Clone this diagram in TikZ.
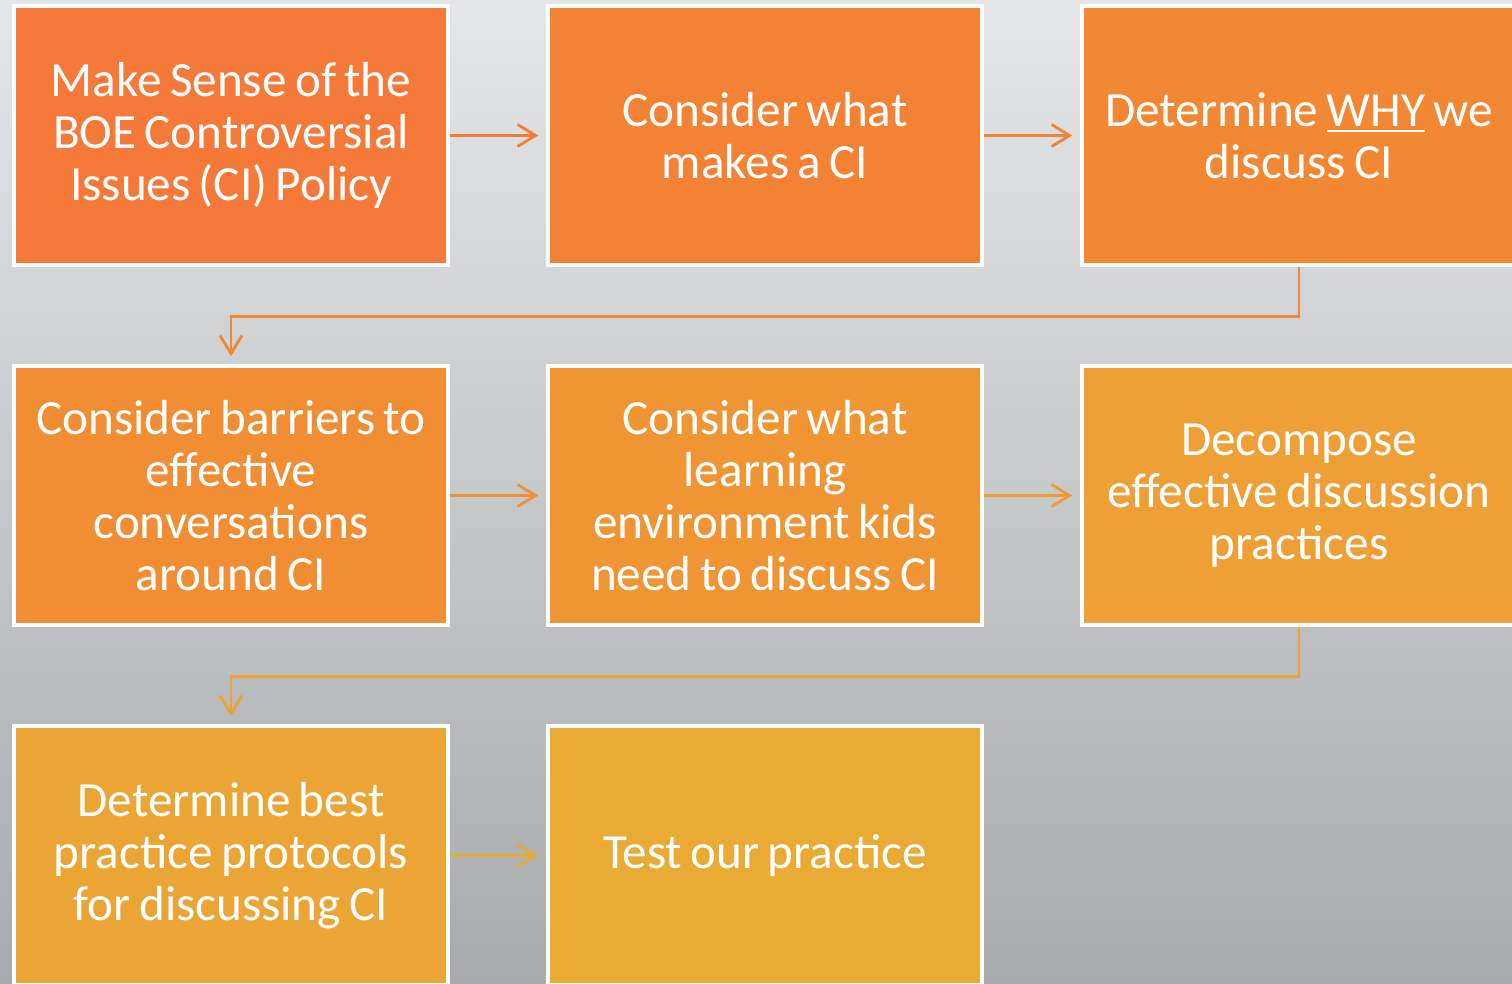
\documentclass[tikz,border=0pt]{standalone}
\usepackage{fontspec}
\setmainfont{Carlito}
\usetikzlibrary{positioning,arrows.meta}

\definecolor{bgtop}{RGB}{229,230,232}
\definecolor{bgbottom}{RGB}{167,171,172}
\definecolor{stepa}{RGB}{245,121,56}
\definecolor{stepb}{RGB}{243,130,53}
\definecolor{stepc}{RGB}{242,136,52}
\definecolor{stepd}{RGB}{241,142,52}
\definecolor{stepe}{RGB}{240,149,52}
\definecolor{stepf}{RGB}{238,159,53}
\definecolor{stepg}{RGB}{235,165,53}
\definecolor{steph}{RGB}{234,171,52}

\tikzset{
  stepbox/.style={draw=white, line width=1pt, text=white, inner sep=0.1cm,
    minimum width=4.34cm, minimum height=2.59cm, text width=4.1cm, align=center,
    font=\fontsize{14}{14.8}\selectfont,
    execute at begin node={\spaceskip=0.17em\relax}},
  flow/.style={-{Straight Barb[length=1.8mm,width=2.2mm]}, line width=0.8pt, shorten >=0.08cm}
}

\begin{document}
\begin{tikzpicture}
% Hintergrund
\useasboundingbox (0,0) rectangle (15.12,9.83);
\shade[top color=bgtop, bottom color=bgbottom] (0,0) rectangle (15.12,9.83);

% Zeile 1
\node[stepbox, fill=stepa] (sense) at (2.31,8.475) {Make Sense of the\\BOE Controversial\\Issues (CI) Policy};
\node[stepbox, fill=stepb, right=0.965cm of sense] (what) {Consider what\\makes a CI};
\node[stepbox, fill=stepc, right=0.965cm of what] (why) {Determine \underline{WHY} we\\discuss CI};

% Zeile 2
\node[stepbox, fill=stepd, below=0.975cm of sense] (barriers) {Consider barriers to\\effective\\conversations\\around CI};
\node[stepbox, fill=stepe, right=0.965cm of barriers] (environ) {Consider what\\learning\\environment kids\\need to discuss CI};
\node[stepbox, fill=stepf, right=0.965cm of environ] (decomp) {Decompose\\effective discussion\\practices};

% Zeile 3
\node[stepbox, fill=stepg, below=0.975cm of barriers] (protocols) {Determine best\\practice protocols\\for discussing CI};
\node[stepbox, fill=steph, right=0.965cm of protocols] (test) {Test our practice};

% Pfeile
\draw[flow, draw={rgb,255:red,244;green,124;blue,55}] (sense) -- (what);
\draw[flow, draw={rgb,255:red,242;green,133;blue,52}] (what) -- (why);
\draw[flow, draw={rgb,255:red,241;green,135;blue,52}] (why.south) -- ++(0,-0.5) -| (barriers.north);
\draw[flow, draw={rgb,255:red,240;green,145;blue,52}] (barriers) -- (environ);
\draw[flow, draw={rgb,255:red,239;green,154;blue,52}] (environ) -- (decomp);
\draw[flow, draw={rgb,255:red,237;green,163;blue,52}] (decomp.south) -- ++(0,-0.5) -| (protocols.north);
\draw[flow, draw={rgb,255:red,234;green,168;blue,52}] (protocols) -- (test);
\end{tikzpicture}
\end{document}
